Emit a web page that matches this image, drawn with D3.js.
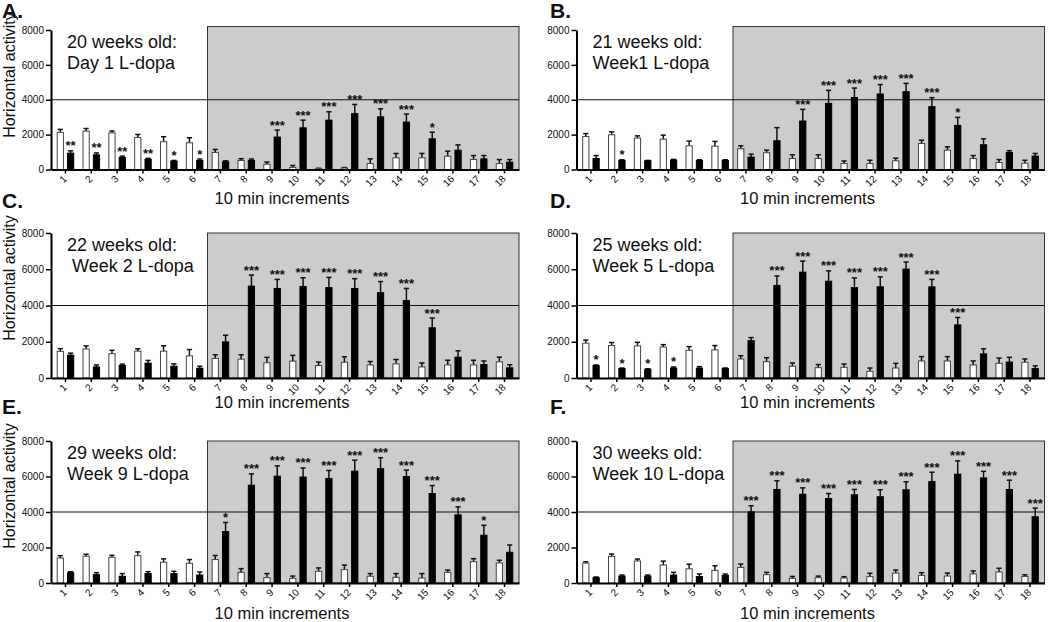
<!DOCTYPE html>
<html><head><meta charset="utf-8">
<script src="https://cdn.jsdelivr.net/npm/d3@7"></script>
<style>
body{margin:0;background:#fff}
text{font-family:Arial,"Liberation Sans",Helvetica,sans-serif;fill:#111}
</style>
</head><body>
<svg id="chart" width="1050" height="622"></svg>
<script>
// ---------- data ----------
const categories = ["1","2","3","4","5","6","7","8","9","10","11","12","13","14","15","16","17","18"];
const yTicks = [0, 2000, 4000, 6000, 8000];
const refLine = 4000;
const shadeFrom = "7";
const panelLetters = ["A.", "B.", "C.", "D.", "E.", "F."];
const titleLine1 = ["20 weeks old:", "21 weeks old:", "22 weeks old:", "25 weeks old:", "29 weeks old:", "30 weeks old:"];
const titleLine2 = ["Day 1 L-dopa", "Week1 L-dopa", " Week 2 L-dopa", "Week 5 L-dopa", "Week 9 L-dopa", "Week 10 L-dopa"];
const yTitle = "Horizontal activity";
const xTitle = "10 min increments";

const aCtrl     = [2130,2200,2100,1840,1590,1530,980,520,300,120,50,80,340,670,670,760,570,340];
const aCtrlErr  = [170,150,110,170,290,290,170,100,130,110,20,30,270,250,250,290,230,230];
const aLdopa    = [940,840,690,590,480,520,440,520,1860,2390,2830,3200,3020,2720,1760,1110,610,420];
const aLdopaErr = [130,110,75,50,40,80,60,80,400,440,480,530,460,460,380,300,190,150];
const aSig      = ["**","**","**","**","*","*","","","***","***","***","***","***","***","*","","",""];

const bCtrl     = [1890,1990,1800,1740,1360,1340,1190,960,630,630,340,340,500,1490,1110,630,400,360];
const bCtrlErr  = [170,170,130,230,270,270,170,150,210,210,150,190,150,190,190,170,170,170];
const bLdopa    = [630,520,500,540,520,520,710,1650,2780,3790,4130,4330,4460,3600,2530,1420,980,770];
const bLdopaErr = [170,40,20,40,40,40,170,750,670,750,540,540,480,520,460,340,100,150];
const bSig      = ["","*","","","","","","","***","***","***","***","***","***","*","","",""];

const cCtrl     = [1470,1600,1340,1480,1480,1220,1080,1040,840,930,690,870,720,780,610,720,720,890];
const cCtrlErr  = [150,170,190,130,300,350,200,240,300,320,190,300,190,240,220,260,260,260];
const cLdopa    = [1260,610,690,820,650,540,1990,5070,4940,5050,4990,4940,4710,4270,2770,1150,740,560];
const cLdopaErr = [110,110,75,150,130,110,370,610,500,480,560,540,610,670,540,350,200,170];
const cSig      = ["","","","","","","","***","***","***","***","***","***","***","***","","",""];

const dCtrl     = [1920,1790,1770,1710,1530,1550,1050,900,650,570,590,370,550,940,940,720,810,870];
const dCtrlErr  = [170,170,200,130,200,240,180,220,180,170,180,180,260,240,240,220,290,180];
const dLdopa    = [680,520,480,550,550,530,2060,5110,5840,5340,4990,5030,6010,5030,2930,1330,880,520];
const dLdopaErr = [40,30,30,60,80,20,170,520,610,570,530,550,390,410,410,280,260,150];
const dSig      = ["*","*","*","*","","","","***","***","***","***","***","***","***","***","","",""];

const eCtrl     = [1410,1510,1450,1540,1170,1110,1320,600,300,260,660,750,380,320,280,600,1200,1130];
const eCtrlErr  = [130,110,110,210,190,210,230,210,230,130,190,260,150,210,250,130,170,150];
const eLdopa    = [580,470,380,530,530,450,2900,5510,6020,5970,5890,6300,6440,6000,5040,3840,2690,1730];
const eLdopaErr = [60,110,150,110,130,170,510,640,580,510,450,620,620,360,450,450,560,410];
const eSig      = ["","","","","","","*","***","***","***","***","***","***","***","***","***","*",""];

const fCtrl     = [1120,1500,1240,1010,800,710,880,470,260,300,280,360,560,430,390,510,620,370];
const fCtrlErr  = [75,130,110,220,260,260,190,130,110,90,75,190,170,150,170,170,210,90];
const fLdopa    = [300,390,390,450,360,430,4010,5270,5000,4760,4970,4860,5250,5720,6130,5920,5270,3730];
const fLdopaErr = [40,60,60,150,150,75,340,490,360,280,300,390,450,520,750,370,520,490];
const fSig      = ["","","","","","","***","***","***","***","***","***","***","***","***","***","***","***"];

const panelCtrl     = [aCtrl, bCtrl, cCtrl, dCtrl, eCtrl, fCtrl];
const panelCtrlErr  = [aCtrlErr, bCtrlErr, cCtrlErr, dCtrlErr, eCtrlErr, fCtrlErr];
const panelLdopa    = [aLdopa, bLdopa, cLdopa, dLdopa, eLdopa, fLdopa];
const panelLdopaErr = [aLdopaErr, bLdopaErr, cLdopaErr, dLdopaErr, eLdopaErr, fLdopaErr];
const panelSig      = [aSig, bSig, cSig, dSig, eSig, fSig];

// ---------- layout ----------
const colLeft = [51, 576.5];
const plotW = 468;
const rowZero = [169.5, 378, 583];
const rowTop = [30, 233, 441];
const rowShadeTop = [8200, 8000, 8000];
const rowLetterY = [18, 208, 414];
const rowXTitleY = [204, 408, 619];

const svg = d3.select("#chart");

panelLetters.forEach((letter, i) => {
  const col = i % 2, row = Math.floor(i / 2);
  const left = colLeft[col], right = left + plotW;
  const g = svg.append("g");

  const x = d3.scaleBand().domain(categories).range([left, right]).paddingInner(0.32).paddingOuter(0.22);
  const xs = d3.scaleBand().domain(["ctrl", "ldopa"]).range([0, x.bandwidth()]).paddingInner(0.3);
  const y = d3.scaleLinear().domain([0, 8000]).range([rowZero[row], rowTop[row]]);

  // shaded L-dopa period
  const sx = x(shadeFrom) - x.step() * x.paddingInner() / 2;
  g.append("rect")
    .attr("x", sx).attr("y", y(rowShadeTop[row]))
    .attr("width", right - sx).attr("height", y(0) - y(rowShadeTop[row]))
    .attr("fill", "#cccccc").attr("stroke", "#333").attr("stroke-width", 1);

  // reference line
  g.append("line")
    .attr("x1", left).attr("x2", right)
    .attr("y1", y(refLine)).attr("y2", y(refLine))
    .attr("stroke", "#111").attr("stroke-width", 1);

  const rows = categories.map((c, k) => ({
    c, ctrl: panelCtrl[i][k], ctrlErr: panelCtrlErr[i][k],
    ldopa: panelLdopa[i][k], ldopaErr: panelLdopaErr[i][k], sig: panelSig[i][k]
  }));

  const series = [
    {key: "ctrl", fill: "#ffffff", stroke: "#444"},
    {key: "ldopa", fill: "#000000", stroke: "#000"}
  ];
  series.forEach(s => {
    const bw = xs.bandwidth();
    // error bars (upward only)
    const eg = g.append("g");
    rows.forEach(d => {
      const cx = x(d.c) + xs(s.key) + bw / 2;
      const top = y(d[s.key] + d[s.key + "Err"]);
      eg.append("line").attr("x1", cx).attr("x2", cx)
        .attr("y1", y(d[s.key])).attr("y2", top)
        .attr("stroke", "#111").attr("stroke-width", 1.5);
      eg.append("line").attr("x1", cx - 2.6).attr("x2", cx + 2.6)
        .attr("y1", top).attr("y2", top)
        .attr("stroke", "#111").attr("stroke-width", 1.5);
    });
    g.append("g").selectAll("rect").data(rows).join("rect")
      .attr("x", d => x(d.c) + xs(s.key) + 0.5)
      .attr("y", d => y(d[s.key]))
      .attr("width", bw - 1)
      .attr("height", d => y(0) - y(d[s.key]))
      .attr("fill", s.fill).attr("stroke", s.stroke).attr("stroke-width", 1);
  });

  // significance stars
  g.append("g").selectAll("text").data(rows.filter(d => d.sig)).join("text")
    .attr("x", d => x(d.c) + xs("ldopa") + xs.bandwidth() / 2)
    .attr("y", d => y(d.ldopa + d.ldopaErr) - 0.5)
    .attr("text-anchor", "middle")
    .attr("font-size", 13).attr("font-weight", "bold")
    .text(d => d.sig);

  // axes
  const ya = g.append("g").attr("transform", `translate(${left},0)`)
    .call(d3.axisLeft(y).tickValues(yTicks).tickFormat(d3.format("d")).tickSize(5).tickSizeOuter(0).tickPadding(2));
  ya.select(".domain").attr("stroke", "#000").attr("stroke-width", 2);
  ya.selectAll(".tick line").attr("stroke", "#000").attr("stroke-width", 1.5);
  ya.selectAll(".tick text").attr("font-size", 10).attr("fill", "#111");

  const xa = g.append("g").attr("transform", `translate(0,${y(0)})`)
    .call(d3.axisBottom(x).tickSize(4).tickSizeOuter(0));
  xa.select(".domain").attr("stroke", "#000").attr("stroke-width", 2);
  xa.selectAll(".tick line").attr("stroke", "#000").attr("stroke-width", 1.5);
  xa.selectAll(".tick text").attr("font-size", 10).attr("fill", "#111")
    .attr("text-anchor", "end").attr("x", 0).attr("y", 0).attr("dy", 0)
    .attr("transform", "translate(2,10) rotate(-45)");

  // inset title
  const tx = left + 16;
  g.append("text").attr("x", tx).attr("y", y(0) - (rowZero[row] - rowTop[row]) + 18)
    .attr("font-size", 18).style("white-space", "pre").text(titleLine1[i]);
  g.append("text").attr("x", tx).attr("y", y(0) - (rowZero[row] - rowTop[row]) + 39)
    .attr("font-size", 18).style("white-space", "pre").text(titleLine2[i]);

  // axis titles
  g.append("text").attr("x", left + (right - left) / 2 - 3).attr("y", rowXTitleY[row])
    .attr("text-anchor", "middle").attr("font-size", 16.5).text(xTitle);
  if (col === 0) {
    g.append("text")
      .attr("transform", `translate(15,${rowTop[row] + 45}) rotate(-90)`)
      .attr("text-anchor", "middle").attr("font-size", 16).text(yTitle);
  }

  // panel letter
  g.append("text").attr("x", col === 0 ? 2 : 550).attr("y", rowLetterY[row])
    .attr("font-size", 21).attr("font-weight", "bold").text(letter);
});
</script>
</body></html>
